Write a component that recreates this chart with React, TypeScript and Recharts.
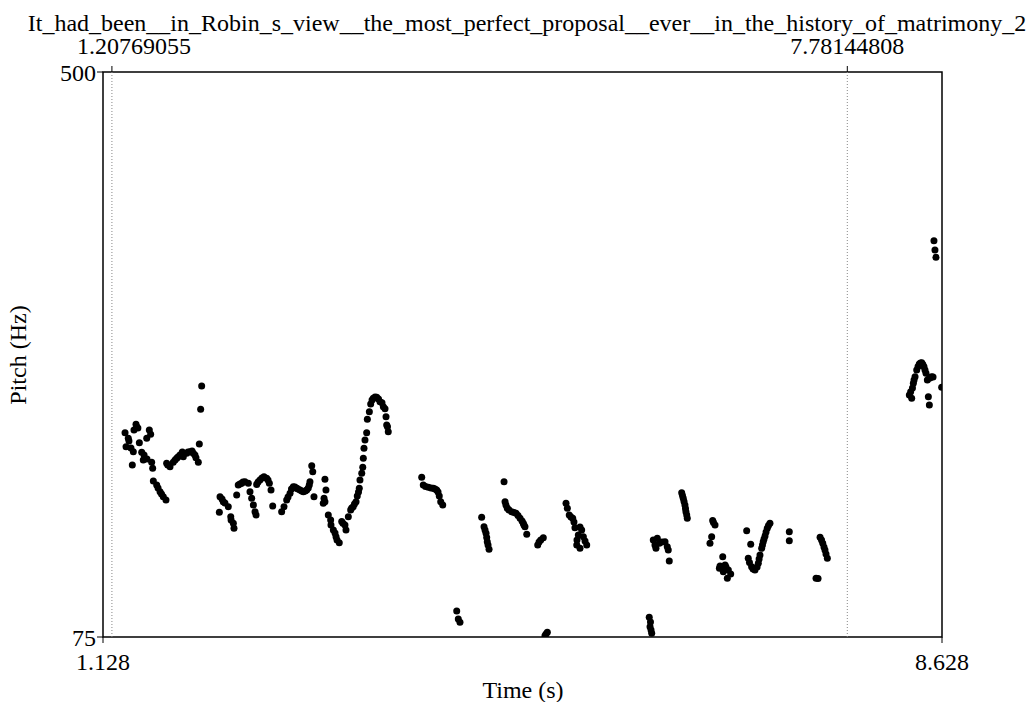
import React from 'react';
import {
  ScatterChart,
  Scatter,
  XAxis,
  YAxis,
  ReferenceLine,
  ReferenceArea,
} from 'recharts';

// pitch track, [time (s), pitch (Hz)]
const seg1 = [
  [1.325, 228.7], [1.334, 218.1], [1.354, 224.5], [1.36, 222.4], [1.378, 217.2], [1.39, 204.4],
  [1.399, 214.4], [1.405, 230.7], [1.423, 235.0], [1.429, 233.2], [1.44, 232.2], [1.453, 221.2],
  [1.474, 214.0], [1.488, 208.1], [1.495, 211.9], [1.519, 224.5], [1.521, 208.9], [1.542, 230.7],
  [1.554, 227.5], [1.563, 206.4], [1.572, 201.9], [1.578, 192.3], [1.608, 189.3], [1.62, 187.1],
  [1.638, 184.3], [1.651, 182.6], [1.667, 180.5], [1.691, 178.1],
];
const seg2 = [
  [1.697, 205.7], [1.707, 204.4], [1.727, 203.1], [1.756, 206.4], [1.772, 208.1], [1.787, 209.4],
  [1.798, 210.4], [1.816, 211.9], [1.837, 214.2], [1.846, 210.6], [1.876, 213.2], [1.888, 214.2],
  [1.906, 214.4], [1.924, 214.9], [1.935, 213.2], [1.95, 211.9], [1.959, 209.9], [1.98, 206.4],
  [1.989, 220.2], [2.001, 246.3], [2.01, 263.8],
];
const seg3 = [
  [2.168, 168.8], [2.174, 180.5], [2.192, 178.8], [2.203, 176.8], [2.218, 175.8], [2.248, 173.0],
  [2.27, 165.5], [2.273, 163.0], [2.293, 160.5], [2.299, 156.8], [2.323, 181.8], [2.337, 189.3],
  [2.352, 190.1], [2.368, 190.6], [2.379, 191.6], [2.397, 191.8], [2.427, 190.6], [2.442, 184.3],
  [2.457, 179.3], [2.472, 174.3], [2.487, 169.3], [2.496, 166.8], [2.502, 189.8], [2.514, 191.6],
  [2.531, 193.1], [2.549, 194.6], [2.567, 195.6], [2.591, 194.4], [2.603, 193.1], [2.615, 190.6],
  [2.63, 185.6], [2.645, 173.5],
];
const seg4 = [
  [2.725, 169.3], [2.746, 173.0], [2.77, 178.1], [2.782, 180.3], [2.8, 183.1], [2.813, 186.3],
  [2.829, 188.1], [2.844, 187.8], [2.86, 186.9], [2.871, 186.3], [2.889, 185.6], [2.905, 184.8],
  [2.919, 184.3], [2.936, 184.8], [2.949, 185.6], [2.963, 187.1], [2.972, 189.3], [2.978, 191.8],
  [2.994, 203.9], [3.003, 199.3], [3.014, 180.5],
];
const seg5 = [
  [3.097, 175.6], [3.104, 179.3], [3.112, 193.6], [3.112, 176.8], [3.121, 185.6], [3.142, 166.8],
  [3.163, 163.0], [3.166, 159.2], [3.187, 155.5], [3.202, 153.2], [3.211, 150.4], [3.22, 148.0],
  [3.24, 145.9], [3.262, 161.8], [3.273, 160.5], [3.291, 159.2], [3.3, 155.5], [3.321, 165.5],
  [3.342, 170.5], [3.351, 172.0], [3.365, 173.0], [3.376, 175.0], [3.39, 176.8], [3.401, 181.1],
  [3.412, 184.1], [3.419, 186.9], [3.425, 193.1], [3.441, 198.1], [3.45, 202.6], [3.455, 209.4],
  [3.461, 216.9], [3.47, 223.2], [3.485, 228.7], [3.491, 238.8], [3.509, 244.5], [3.521, 250.3],
  [3.533, 253.3], [3.544, 254.6], [3.56, 255.6], [3.575, 255.3], [3.591, 254.0], [3.604, 252.0],
  [3.622, 251.2], [3.634, 248.2], [3.649, 246.7], [3.658, 240.7], [3.664, 234.5], [3.671, 233.2],
  [3.678, 229.4],
];
const seg6 = [
  [3.977, 195.1], [3.991, 189.3], [4.011, 188.2], [4.036, 187.6], [4.06, 187.1], [4.081, 186.9],
  [4.096, 186.3], [4.111, 185.6], [4.123, 184.1], [4.134, 181.1], [4.147, 176.8], [4.165, 174.3],
  [4.29, 94.6], [4.304, 88.5], [4.319, 86.1],
  [4.513, 165.0], [4.534, 158.0], [4.543, 155.5], [4.552, 153.0], [4.558, 149.8], [4.563, 146.7],
  [4.57, 144.2], [4.579, 141.0],
];
const seg7 = [
  [4.713, 191.8], [4.722, 176.8], [4.73, 174.3], [4.742, 171.8], [4.757, 170.5], [4.781, 169.3],
  [4.802, 168.6], [4.82, 168.0], [4.838, 166.4], [4.856, 164.3], [4.874, 162.3], [4.885, 160.5],
  [4.891, 159.2], [4.9, 158.0], [4.916, 152.3],
  [5.014, 144.2], [5.026, 146.5], [5.041, 148.0], [5.064, 149.7],
  [5.079, 76.0], [5.088, 77.3], [5.1, 78.5],
];
const seg8 = [
  [5.267, 175.6], [5.279, 171.8], [5.296, 166.8], [5.311, 165.3], [5.327, 164.3], [5.338, 161.5],
  [5.347, 157.2], [5.363, 144.2], [5.365, 148.0], [5.377, 151.7], [5.392, 141.7], [5.392, 157.7],
  [5.407, 155.5], [5.422, 150.5], [5.437, 147.2], [5.452, 144.2],
];
const seg9 = [
  [6.011, 89.8], [6.018, 82.7], [6.022, 86.3], [6.027, 80.3], [6.033, 77.8],
  [6.047, 148.0], [6.062, 144.2], [6.071, 141.7], [6.083, 149.2], [6.101, 145.5], [6.126, 146.5],
  [6.152, 146.7], [6.172, 142.9], [6.181, 140.4], [6.19, 132.2],
  [6.301, 183.6], [6.308, 181.4], [6.315, 179.3], [6.322, 176.9], [6.33, 174.3], [6.335, 171.7],
  [6.339, 169.3], [6.346, 166.8], [6.351, 164.3],
];
const seg10 = [
  [6.554, 145.5], [6.569, 150.4], [6.578, 162.6], [6.585, 161.1], [6.599, 159.2], [6.638, 126.7],
  [6.644, 128.4], [6.668, 135.4], [6.673, 124.1], [6.689, 129.2], [6.697, 127.7], [6.709, 119.2],
  [6.718, 125.4], [6.739, 122.4],
  [6.882, 155.0], [6.896, 134.2], [6.907, 131.0], [6.918, 144.7], [6.926, 127.9], [6.939, 126.2],
  [6.956, 125.4], [6.975, 127.7], [6.986, 130.4], [6.993, 133.7], [7.001, 136.7], [7.016, 141.7],
  [7.023, 144.2], [7.03, 146.7], [7.037, 148.7], [7.046, 151.0], [7.055, 154.0], [7.066, 156.8],
  [7.077, 158.9], [7.09, 160.5],
];
const seg11 = [
  [7.263, 154.2], [7.263, 147.4], [7.502, 119.2], [7.52, 119.0], [7.538, 150.0], [7.551, 148.0],
  [7.562, 145.5], [7.573, 142.7], [7.582, 140.4], [7.591, 137.4], [7.603, 134.2],
];
const seg12 = [
  [8.336, 257.0], [8.348, 259.5], [8.357, 254.6], [8.364, 262.3], [8.372, 265.8], [8.378, 268.3],
  [8.387, 270.8], [8.402, 275.8], [8.414, 278.5], [8.425, 280.4], [8.436, 281.1], [8.447, 281.3],
  [8.457, 280.0], [8.467, 278.3], [8.476, 275.8], [8.485, 273.4], [8.497, 268.3], [8.506, 255.8],
  [8.515, 269.6], [8.515, 249.5], [8.526, 270.2], [8.536, 270.8], [8.548, 270.6], [8.556, 373.1],
  [8.565, 366.1], [8.574, 360.6], [8.625, 262.8],
];

const segments = [seg1, seg2, seg3, seg4, seg5, seg6, seg7, seg8, seg9, seg10, seg11, seg12];

const tMin = 1.128;
const tMax = 8.628;
const fMin = 75;
const fMax = 500;
const bottomTicks = [1.128, 8.628];
const topTicks = [1.20769055, 7.78144808];
const pitchTicks = [75, 500];
const title =
  'It_had_been__in_Robin_s_view__the_most_perfect_proposal__ever__in_the_history_of_matrimony_2';

const font = '"Liberation Serif", "Times New Roman", serif';
const tickStyle = { fontSize: 24, fill: '#000', fontFamily: font };

const data = segments.flat().map(([t, hz]) => ({ t, hz }));

const Dot = (props: any) => <circle cx={props.cx} cy={props.cy} r={3.5} fill="#000" />;
const NoDot = () => <g />;

// the first selection label sits a little right of its mark, as Praat keeps it off the left edge
const TopTick = (props: any) => (
  <text
    x={props.x + (props.index === 0 ? 22 : 0)}
    y={props.y}
    textAnchor="middle"
    fontSize={24}
    fontFamily={font}
    fill="#000"
  >
    {String(props.payload.value)}
  </text>
);

export default function App() {
  return (
    <div
      style={{
        position: 'absolute',
        left: 0,
        top: 0,
        width: 1027,
        height: 702,
        background: '#fff',
        fontFamily: font,
      }}
    >
      <ScatterChart
        width={1027}
        height={702}
        margin={{ top: 42, right: 85, bottom: 35, left: 43 }}
      >
        <XAxis
          xAxisId="bottom"
          type="number"
          dataKey="t"
          domain={[tMin, tMax]}
          allowDataOverflow
          ticks={bottomTicks}
          interval={0}
          tickFormatter={(v: number) => v.toFixed(3)}
          orientation="bottom"
          height={30}
          axisLine={false}
          tickLine={{ stroke: '#000' }}
          tickSize={6}
          tickMargin={10}
          tick={tickStyle}
        />
        <XAxis
          xAxisId="top"
          type="number"
          dataKey="t"
          domain={[tMin, tMax]}
          allowDataOverflow
          ticks={topTicks}
          interval={0}
          orientation="top"
          height={30}
          axisLine={false}
          tickLine={{ stroke: '#000' }}
          tickSize={6}
          tickMargin={12}
          tick={TopTick}
        />
        <YAxis
          yAxisId="left"
          type="number"
          dataKey="hz"
          domain={[fMin, fMax]}
          allowDataOverflow
          ticks={pitchTicks}
          interval={0}
          width={60}
          axisLine={false}
          tickLine={{ stroke: '#000' }}
          tickSize={6}
          tickMargin={1}
          tick={tickStyle}
        />
        <ReferenceLine
          xAxisId="bottom"
          yAxisId="left"
          x={topTicks[0]}
          stroke="#888"
          strokeDasharray="1 2"
        />
        <ReferenceLine
          xAxisId="bottom"
          yAxisId="left"
          x={topTicks[1]}
          stroke="#888"
          strokeDasharray="1 2"
        />
        <ReferenceArea
          xAxisId="bottom"
          yAxisId="left"
          x1={tMin}
          x2={tMax}
          y1={fMin}
          y2={fMax}
          fill="none"
          fillOpacity={0}
          stroke="#000"
          strokeWidth={1.5}
        />
        <Scatter
          xAxisId="top"
          yAxisId="left"
          data={data}
          shape={NoDot}
          isAnimationActive={false}
        />
        <Scatter
          xAxisId="bottom"
          yAxisId="left"
          data={data}
          shape={Dot}
          isAnimationActive={false}
        />
      </ScatterChart>
      <div
        style={{
          position: 'absolute',
          left: 0,
          width: 1054,
          top: 10,
          textAlign: 'center',
          fontSize: 24,
          lineHeight: '26px',
          whiteSpace: 'nowrap',
        }}
      >
        {title}
      </div>
      <div
        style={{
          position: 'absolute',
          left: 0,
          width: 1046,
          top: 675,
          textAlign: 'center',
          fontSize: 24,
          lineHeight: '30px',
        }}
      >
        Time (s)
      </div>
      <div
        style={{
          position: 'absolute',
          left: 18,
          top: 355,
          transform: 'translate(-50%, -50%) rotate(-90deg)',
          fontSize: 24,
          lineHeight: '30px',
          whiteSpace: 'nowrap',
        }}
      >
        Pitch (Hz)
      </div>
    </div>
  );
}
